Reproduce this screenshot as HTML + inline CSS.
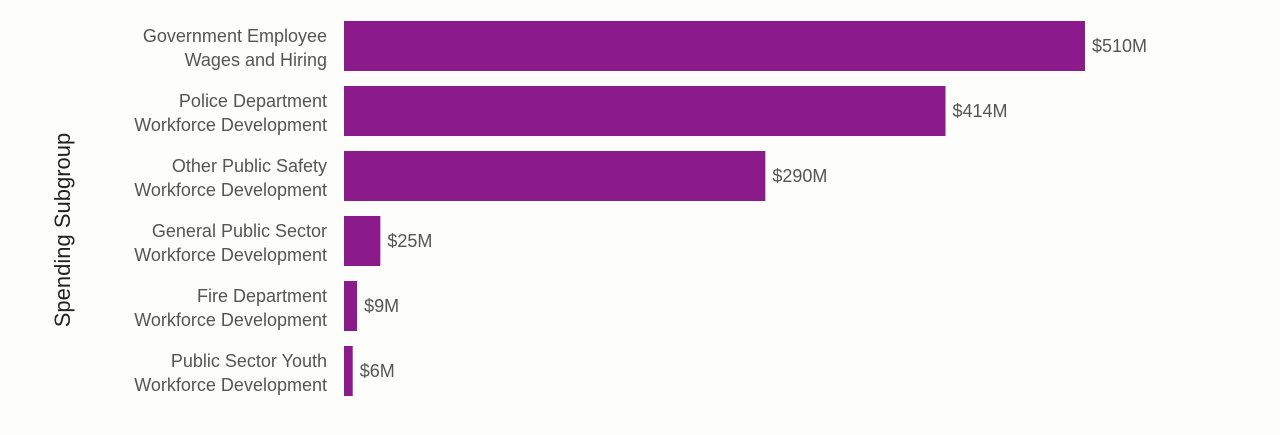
<!DOCTYPE html>
<html><head><meta charset="utf-8"><style>
html,body{margin:0;padding:0;background:#fdfdfc;}
svg{display:block;font-family:"Liberation Sans",Arial,sans-serif;}
</style></head><body>
<svg id="chart" width="1280" height="435" viewBox="0 0 1280 435">
<text transform="translate(70,230) rotate(-90)" text-anchor="middle" font-size="22" fill="#222">Spending Subgroup</text>
<g id="bars"></g>
</svg>
<script>
const categoriesLine1 = ["Government Employee","Police Department","Other Public Safety","General Public Sector","Fire Department","Public Sector Youth"];
const categoriesLine2 = ["Wages and Hiring","Workforce Development","Workforce Development","Workforce Development","Workforce Development","Workforce Development"];
const values = [510,414,290,25,9,6];
const valueLabels = ["$510M","$414M","$290M","$25M","$9M","$6M"];

const x0 = 344, xMaxPx = 1085, xMaxVal = 510;
function xScale(v){ return x0 + v * (xMaxPx - x0) / xMaxVal; }
const rowTop = 21, rowStep = 65, barH = 50;
function yScale(i){ return rowTop + i * rowStep; }

const ns = "http://www.w3.org/2000/svg";
const g = document.getElementById("bars");
values.forEach((v, i) => {
  const y = yScale(i);
  const r = document.createElementNS(ns, "rect");
  
  
  r.setAttribute("x", x0);
  r.setAttribute("y", y);
  r.setAttribute("width", xScale(v) - x0);
  r.setAttribute("height", barH);
  r.setAttribute("fill", "#8b1a8b");
  g.appendChild(r);

  const t = document.createElementNS(ns, "text");
  
  
  t.setAttribute("x", xScale(v) + 7);
  t.setAttribute("y", y + barH/2 + 6);
  t.setAttribute("font-size", "18");
  t.setAttribute("fill", "#555");
  t.textContent = valueLabels[i];
  g.appendChild(t);

  const c = document.createElementNS(ns, "text");
  
  
  c.setAttribute("text-anchor", "end");
  c.setAttribute("font-size", "18");
  c.setAttribute("fill", "#555");
  const t1 = document.createElementNS(ns, "tspan");
  t1.setAttribute("x", 327);
  t1.setAttribute("y", y + 21);
  t1.textContent = categoriesLine1[i];
  const t2 = document.createElementNS(ns, "tspan");
  t2.setAttribute("x", 327);
  t2.setAttribute("y", y + 45);
  t2.textContent = categoriesLine2[i];
  c.appendChild(t1); c.appendChild(t2);
  g.appendChild(c);
});
</script>
</body></html>
